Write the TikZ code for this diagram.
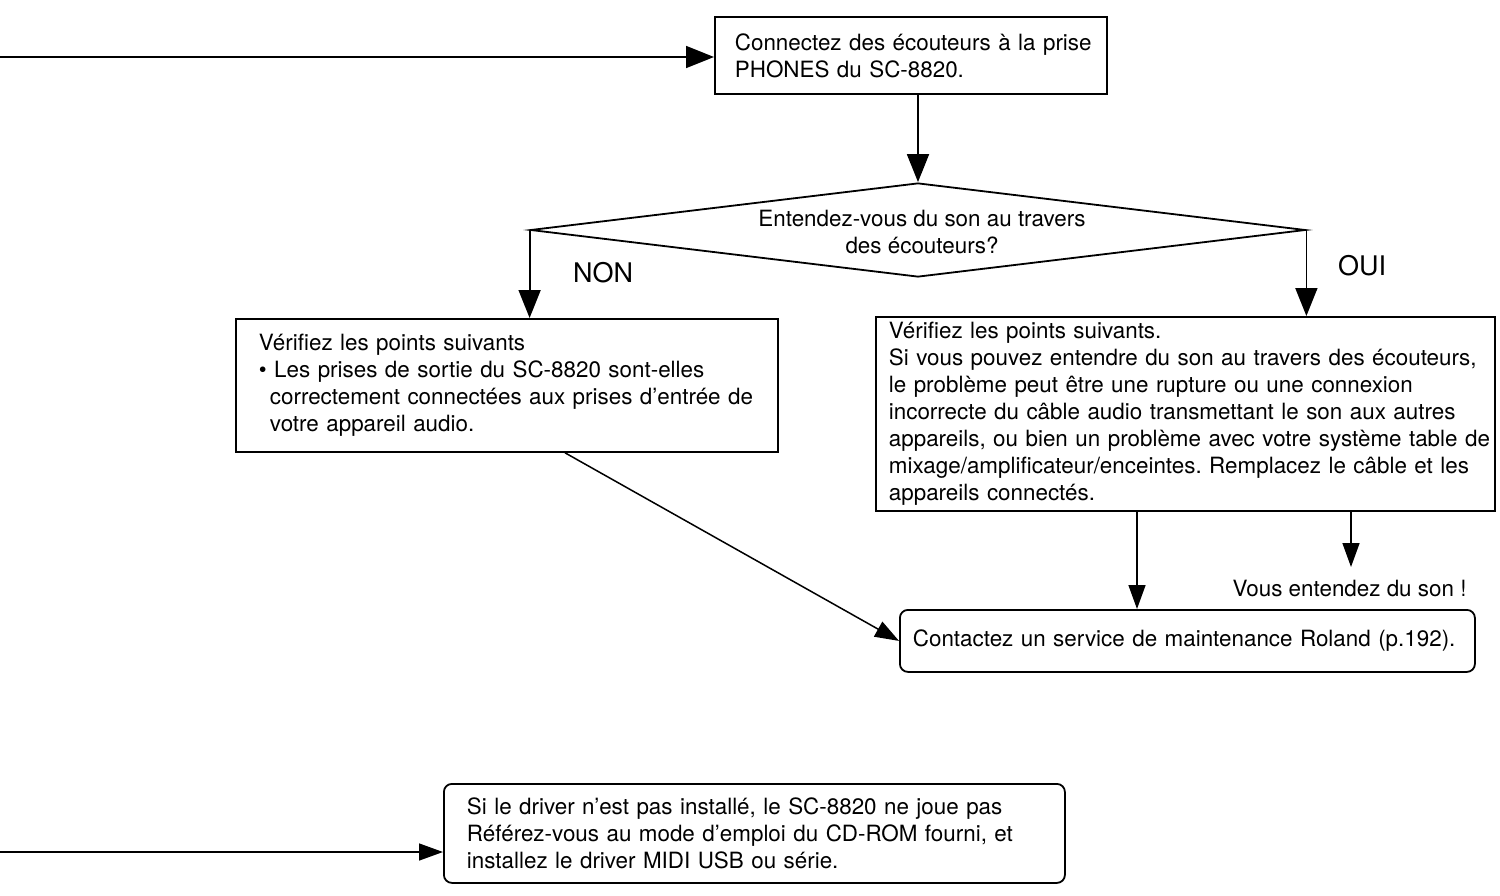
\documentclass[tikz,border=0pt]{standalone}
\usepackage{fontspec}
\setmainfont{TeX Gyre Heros}
\usetikzlibrary{arrows.meta,shapes.geometric,calc}
\begin{document}
\frenchspacing
\begin{tikzpicture}[x=1pt,y=-1pt,
  txt/.style={font=\fontsize{22.4}{27}\selectfont},
  box/.style={draw, line width=1.8pt, anchor=north west, align=left, txt, inner ysep=0pt},
  rbox/.style={box, rounded corners=8pt},
  arr/.style={line width=1.8pt, -{Triangle[length=28pt,width=22pt]}},
  sarr/.style={line width=1.5pt, -{Triangle[length=24pt,width=17pt]}},
  lab/.style={font=\fontsize{27}{30}\selectfont}]
\useasboundingbox (0,0) rectangle (1500,895);

% top box
\node[box, inner xsep=20pt, text width=352pt, minimum height=77pt] (tn) at (714,16)
  {\mbox{Connectez des écouteurs à la prise}\\\mbox{PHONES du SC-8820.}};

% diamond
\node[diamond, draw, line width=1.8pt, inner sep=0pt, minimum width=775pt, minimum height=94pt] (d) at (918,230) {};
\node[txt, align=center] (dq) at (922,232) {Entendez-vous du son au travers\\des écouteurs?};

\node[lab] (non) at (603,273) {NON};
\node[lab] (oui) at (1362,266) {OUI};

% left box
\node[box, inner xsep=23pt, text width=496pt, minimum height=133pt] (lb) at (235,318)
  {\mbox{Vérifiez les points suivants}\\
   \mbox{\textbullet\ Les prises de sortie du SC-8820 sont-elles}\\
   \mbox{\hspace*{11pt}correctement connectées aux prises d'entrée de}\\
   \mbox{\hspace*{11pt}votre appareil audio.}};

% right box
\node[box, inner xsep=13pt, text width=593pt, minimum height=194pt] (rb) at (875,316)
  {\mbox{Vérifiez les points suivants.}\\
   \mbox{Si vous pouvez entendre du son au travers des écouteurs,}\\
   \mbox{le problème peut être une rupture ou une connexion}\\
   \mbox{incorrecte du câble audio transmettant le son aux autres}\\
   \mbox{appareils, ou bien un problème avec votre système table de}\\
   \mbox{mixage/amplificateur/enceintes. Remplacez le câble et les}\\
   \mbox{appareils connectés.}};

% contact box
\node[rbox, inner xsep=13pt, text width=549pt, minimum height=62pt] (cb) at (899,609)
  {\mbox{Contactez un service de maintenance Roland (p.192).}};

\node[txt, anchor=east] (vous) at (1470,588) {Vous entendez du son !};

% bottom box
\node[rbox, inner xsep=23pt, text width=575pt, minimum height=99pt] (bb) at (443,783)
  {\mbox{Si le driver n'est pas installé, le SC-8820 ne joue pas}\\
   \mbox{Référez-vous au mode d'emploi du CD-ROM fourni, et}\\
   \mbox{installez le driver MIDI USB ou série.}};

% coordinates
\coordinate (in1) at (0,57);
\coordinate (in2) at (0,852);
\coordinate (v) at (1351,567);
\coordinate (ls) at ([xshift=330pt]lb.south west);
\coordinate (r1) at ([xshift=262pt]rb.south west);
\coordinate (r2) at ([xshift=476pt]rb.south west);

% connectors
\draw[arr] (in1) -- (in1 -| tn.west);
\draw[arr] (tn.south -| d.north) -- (d.north);
\draw[arr] (d.west) -- (d.west |- lb.north);
\draw[arr] (d.east) -- (d.east |- rb.north);
\draw[sarr] (ls) -- (cb.west);
\draw[sarr] (r1) -- (r1 |- cb.north);
\draw[sarr] (r2) -- (v);
\draw[sarr] (in2) -- (in2 -| bb.west);
\end{tikzpicture}
\end{document}
